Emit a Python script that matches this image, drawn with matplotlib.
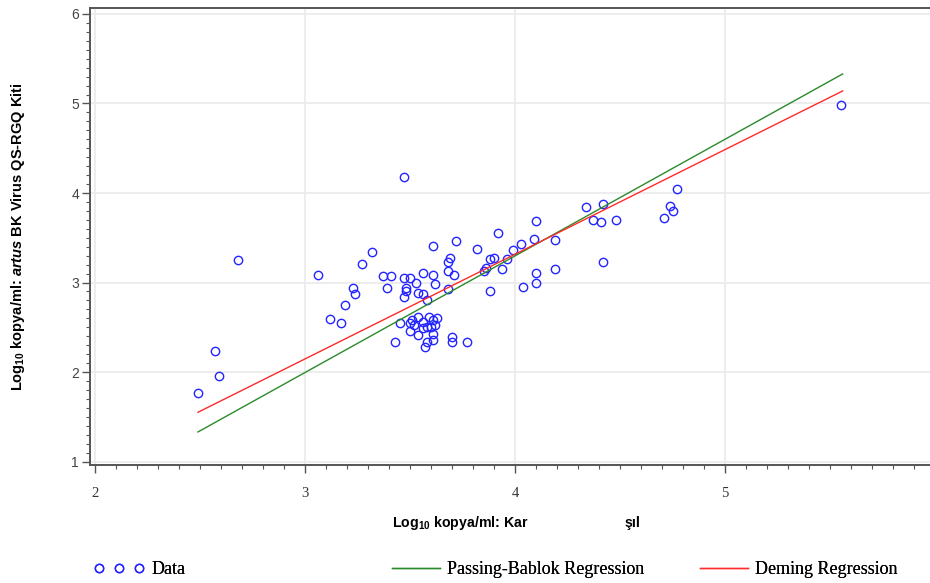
import matplotlib

matplotlib.use("Agg")
import matplotlib.pyplot as plt
from matplotlib.lines import Line2D
from matplotlib.ticker import MultipleLocator, FixedLocator


# Method comparison: log10 copies/ml, comparator (x) vs artus BK Virus QS-RGQ (y)
DATA_X = [
    2.49, 2.57, 2.59, 2.68, 3.06, 3.12, 3.17, 3.19, 3.23, 3.24,
    3.27, 3.32, 3.37, 3.41, 3.39, 3.47, 3.47, 3.50, 3.53, 3.56,
    3.61, 3.62, 3.69, 3.68, 3.68, 3.71, 3.48, 3.48, 3.47, 3.54,
    3.56, 3.58, 3.68, 3.61, 3.72, 3.82, 3.92, 3.86, 3.85, 3.88,
    3.90, 3.88, 3.94, 3.96, 3.99, 4.03, 4.10, 4.09, 4.19, 4.04,
    4.10, 4.10, 4.19, 4.34, 4.42, 4.37, 4.41, 4.48, 4.42, 4.77,
    4.74, 4.75, 4.71, 5.55,
    3.45, 3.43, 3.50, 3.50, 3.52, 3.54, 3.56, 3.56, 3.59, 3.61,
    3.63, 3.60, 3.61, 3.61, 3.58, 3.57, 3.70, 3.70, 3.77, 3.51,
    3.54, 3.58, 3.62,
]
DATA_Y = [
    1.77, 2.23, 1.95, 3.25, 3.08, 2.59, 2.55, 2.75, 2.94, 2.87,
    3.21, 3.34, 3.07, 3.07, 2.94, 4.18, 3.05, 3.05, 3.00, 3.11,
    3.08, 2.98, 3.27, 3.23, 3.13, 3.08, 2.94, 2.90, 2.84, 2.88,
    2.87, 2.80, 2.93, 3.41, 3.46, 3.37, 3.55, 3.16, 3.13, 3.26,
    3.27, 2.90, 3.15, 3.26, 3.36, 3.43, 3.69, 3.49, 3.47, 2.95,
    3.11, 3.00, 3.15, 3.84, 3.88, 3.70, 3.68, 3.70, 3.23, 4.05,
    3.86, 3.80, 3.72, 4.98,
    2.55, 2.33, 2.55, 2.46, 2.52, 2.61, 2.56, 2.49, 2.61, 2.58,
    2.60, 2.50, 2.43, 2.36, 2.34, 2.28, 2.39, 2.34, 2.34, 2.58,
    2.41, 2.50, 2.52,
]

# fitted lines, read at both ends of the data range
FIT_X = [2.49, 5.56]
PASSING_BABLOK_Y = [1.33, 5.33]
DEMING_Y = [1.55, 5.14]

X_TICKS = [2, 3, 4, 5]
Y_TICKS = [1, 2, 3, 4, 5, 6]

BLUE = "#2323ff"
GREEN = "#2a8a2a"
RED = "#ff2a2a"
SPINE = "#555555"


def main() -> None:
    plt.rcParams.update(
        {
            "mathtext.fontset": "custom",
            "mathtext.rm": "Liberation Sans:bold",
            "mathtext.it": "Liberation Sans:bold:italic",
            "mathtext.bf": "Liberation Sans:bold",
        }
    )

    fig = plt.figure(figsize=(9.3, 5.83), dpi=100)
    # the frame runs off the right edge of the picture, as in the source image
    ax = fig.add_axes([90 / 930, 118 / 583, 840 / 930, 457 / 583])

    ax.plot(DATA_X, DATA_Y, linestyle="none", marker="o", markersize=6,
            markerfacecolor="none", markeredgecolor=BLUE, markeredgewidth=1.0, zorder=3)
    ax.plot(FIT_X, PASSING_BABLOK_Y, color=GREEN, linewidth=1.0, zorder=4)
    ax.plot(FIT_X, DEMING_Y, color=RED, linewidth=1.0, zorder=4)

    ax.set_xlim(1.976, 5.976)
    ax.set_ylim(0.961, 6.067)
    ax.xaxis.set_major_locator(FixedLocator(X_TICKS))
    ax.xaxis.set_minor_locator(MultipleLocator(0.1))
    ax.yaxis.set_major_locator(FixedLocator(Y_TICKS))
    ax.yaxis.set_minor_locator(MultipleLocator(0.1))
    ax.grid(True, which="major", color="#ececec", linewidth=1.3, zorder=0)
    ax.set_axisbelow(True)

    for spine in ax.spines.values():
        spine.set_color(SPINE)
        spine.set_linewidth(1.4)
    ax.spines["right"].set_visible(False)

    ax.tick_params(axis="both", which="major", length=6, width=1.0, color=SPINE)
    ax.tick_params(axis="both", which="minor", length=3, width=0.8, color=SPINE)
    ax.tick_params(axis="x", which="major", pad=10)
    ax.tick_params(axis="y", which="major", pad=2)
    for lab in ax.get_xticklabels():
        lab.set_fontfamily("Liberation Serif")
        lab.set_fontsize(10.5)
        lab.set_color("#333333")
    for lab in ax.get_yticklabels():
        lab.set_fontfamily("Liberation Sans")
        lab.set_fontsize(10)
        lab.set_color("#444444")

    fig.text(18 / 930, 1 - 237 / 583,
             r"Log$_{10}$ kopya/ml: $\mathit{artus}$ BK Virus QS-RGQ Kiti",
             rotation=90, ha="center", va="center",
             fontfamily="Liberation Sans", fontweight="bold", fontsize=10.5)
    fig.text(392 / 930, 1 - 523 / 583, r"Log$_{10}$ kopya/ml: Kar",
             ha="left", va="center",
             fontfamily="Liberation Sans", fontweight="bold", fontsize=10.2)
    fig.text(625 / 930, 1 - 523 / 583, "şıl",
             ha="left", va="center",
             fontfamily="Liberation Sans", fontweight="bold", fontsize=10.2)

    leg_font = {"family": "Liberation Serif", "size": 13}
    legend_items = [
        (Line2D([], [], linestyle="none", marker="o", markersize=6,
                markerfacecolor="none", markeredgecolor=BLUE, markeredgewidth=1.0),
         "Data", 94, 3, 2.8),
        (Line2D([], [], color=GREEN, linewidth=1.0), "Passing-Bablok Regression", 392, 1, 2.65),
        (Line2D([], [], color=RED, linewidth=1.0), "Deming Regression", 700, 1, 2.65),
    ]
    for handle, text, x0, npts, hlen in legend_items:
        leg = fig.legend([handle], [text], loc="center left",
                         bbox_to_anchor=(x0 / 930, 1 - 570 / 583),
                         frameon=False, prop=leg_font, numpoints=npts,
                         handlelength=hlen, handletextpad=0.4,
                         borderpad=0, borderaxespad=0)
        fig.add_artist(leg)

    fig.savefig("out.png", dpi=100)
    plt.close(fig)


if __name__ == "__main__":
    main()
